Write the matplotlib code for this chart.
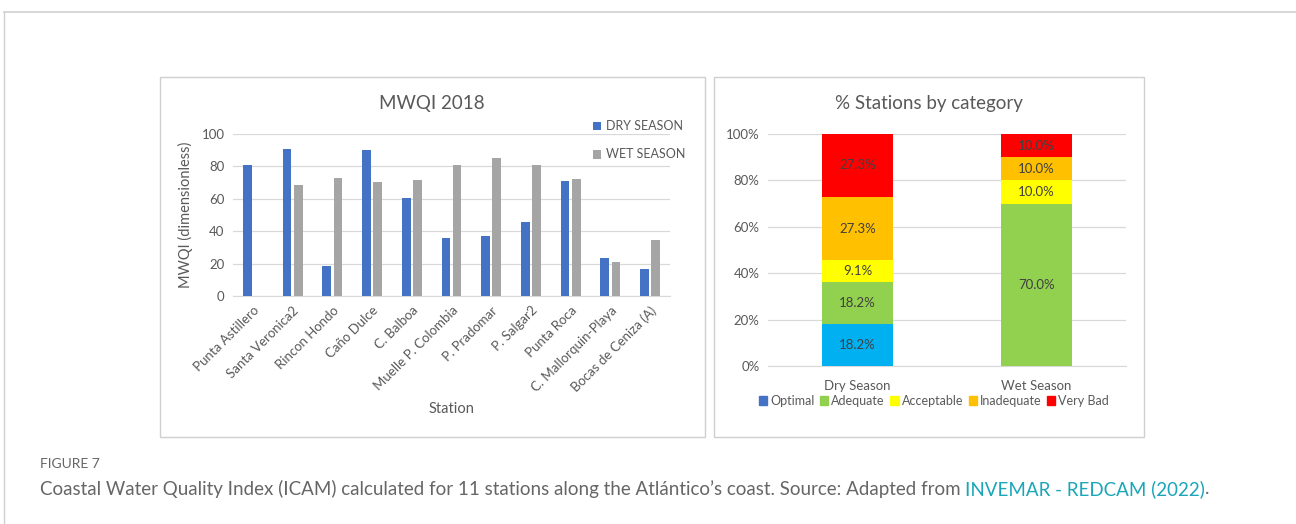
import matplotlib
matplotlib.use("Agg")
import matplotlib.pyplot as plt
from matplotlib.patches import Rectangle
import numpy as np

plt.rcParams["font.family"] = ["Lato", "DejaVu Sans"]

# --- MWQI 2018 data ---
stations = ["Punta Astillero", "Santa Veronica2", "Rincon Hondo", "Caño Dulce", "C. Balboa",
            "Muelle P. Colombia", "P. Pradomar", "P. Salgar2", "Punta Roca",
            "C. Mallorquin-Playa", "Bocas de Ceniza (A)"]
dry_season = [81, 91, 18.5, 90, 60.5, 35.5, 37, 45.5, 71, 23.5, 16.5]
wet_season = [0, 68.5, 73, 70.5, 71.5, 81, 85, 81, 72.5, 21, 34.5]

# --- % stations by category ---
seasons = ["Dry Season", "Wet Season"]
categories = ["Optimal", "Adequate", "Acceptable", "Inadequate", "Very Bad"]
pct_dry = [18.2, 18.2, 9.1, 27.3, 27.3]
pct_wet = [0.0, 70.0, 10.0, 10.0, 10.0]

W, H = 1296, 524
fig = plt.figure(figsize=(W / 100, H / 100), dpi=100)

def fx(px):
    return px / W

def fy(py):
    return 1 - py / H

GRID = "#d9d9d9"
TXT = "#595959"

# outer frame + panel boxes
fig.add_artist(plt.Line2D([fx(4), fx(1296)], [fy(11.5), fy(11.5)], color="#d0d0d0", lw=1.2))
fig.add_artist(plt.Line2D([fx(4), fx(4)], [fy(11.5), fy(524)], color="#d0d0d0", lw=1.0))
for x0, x1 in [(160, 705), (714, 1144)]:
    fig.add_artist(Rectangle((fx(x0), fy(437)), fx(x1 - x0), (437 - 77) / H,
                             transform=fig.transFigure, fill=False, edgecolor="#cfcfcf", lw=1))

# left chart
ax1 = fig.add_axes([fx(233), fy(296), fx(670 - 233), (296 - 134) / H])
x = np.arange(len(stations))
ax1.bar(x - 0.14, dry_season, width=0.22, color="#4472c4", label="DRY SEASON", zorder=3)
ax1.bar(x + 0.14, wet_season, width=0.22, color="#a5a5a5", label="WET SEASON", zorder=3)
ax1.set_ylim(0, 100)
ax1.set_xlim(-0.5, len(stations) - 0.5)
ax1.set_yticks(range(0, 101, 20))
ax1.yaxis.grid(True, color=GRID, lw=0.9, zorder=0)
for s in ["top", "right", "left"]:
    ax1.spines[s].set_visible(False)
ax1.spines["bottom"].set_color(GRID)
ax1.tick_params(length=0, labelsize=9.5, colors=TXT, pad=6)
ax1.set_xticks(x)
ax1.set_xticklabels(stations, rotation=45, ha="right", rotation_mode="anchor")
ax1.set_ylabel("MWQI (dimensionless)", fontsize=10.5, color=TXT, labelpad=6)
ax1.set_xlabel("Station", fontsize=10.5, color=TXT, labelpad=6)
fig.text(fx(432), fy(103), "MWQI 2018", fontsize=13.5, color=TXT, ha="center", va="center")
ax1.legend(loc="upper right", bbox_to_anchor=(fx(697), fy(109)), bbox_transform=fig.transFigure,
           frameon=False, fontsize=9, labelcolor=TXT, handlelength=0.7, handleheight=0.7,
           handletextpad=0.4, labelspacing=1.3)

# right chart
ax2 = fig.add_axes([fx(768), fy(366), fx(1126 - 768), (366 - 134) / H])
xs = np.array([0.5, 1.5])
colors = ["#00b0f0", "#92d050", "#ffff00", "#ffc000", "#ff0000"]
bottoms = np.zeros(2)
for i, cat in enumerate(categories):
    vals = np.array([pct_dry[i], pct_wet[i]])
    ax2.bar(xs, vals, bottom=bottoms, width=0.4, color=colors[i], zorder=3)
    for xi, v, b in zip(xs, vals, bottoms):
        if v > 0:
            ax2.text(xi, b + v / 2, f"{v:.1f}%", ha="center", va="center", fontsize=9.5,
                     color="#404040", zorder=4)
    bottoms += vals
ax2.set_xlim(0, 2)
ax2.set_ylim(0, 100)
ax2.set_yticks(range(0, 101, 20))
ax2.set_yticklabels([f"{v}%" for v in range(0, 101, 20)])
ax2.set_xticks(xs)
ax2.set_xticklabels(seasons)
ax2.yaxis.grid(True, color=GRID, lw=0.9, zorder=0)
for s in ["top", "right", "left"]:
    ax2.spines[s].set_visible(False)
ax2.spines["bottom"].set_color(GRID)
ax2.tick_params(axis="y", length=0, labelsize=9.5, colors=TXT, pad=6)
ax2.tick_params(axis="x", length=0, labelsize=9.5, colors=TXT, pad=10)
fig.text(fx(929), fy(103), "% Stations by category", fontsize=13.5, color=TXT, ha="center", va="center")
legend_colors = ["#4472c4", "#92d050", "#ffff00", "#ffc000", "#ff0000"]
handles = [Rectangle((0, 0), 1, 1, color=c) for c in legend_colors]
ax2.legend(handles, categories, loc="center", bbox_to_anchor=(fx(934), fy(401)),
           bbox_transform=fig.transFigure, ncol=5, frameon=False, fontsize=9, labelcolor=TXT,
           handlelength=0.65, handleheight=0.65, handletextpad=0.25, columnspacing=0.45)

# caption
fig.text(fx(40), fy(464), "FIGURE 7", fontsize=10, color="#666666", va="center")
cap = fig.text(fx(40), fy(489), "Coastal Water Quality Index (ICAM) calculated for 11 stations along the "
               "Atlántico’s coast. Source: Adapted from ", fontsize=13.5, color="#666666", va="center")
fig.canvas.draw()
bb = cap.get_window_extent(fig.canvas.get_renderer())
link = fig.text(bb.x1 / W, fy(489), "INVEMAR - REDCAM (2022)", fontsize=13.5, color="#1aa6b7", va="center")
fig.canvas.draw()
bb2 = link.get_window_extent(fig.canvas.get_renderer())
fig.text(bb2.x1 / W, fy(489), ".", fontsize=13.5, color="#666666", va="center")

fig.savefig("out.png", dpi=100)
